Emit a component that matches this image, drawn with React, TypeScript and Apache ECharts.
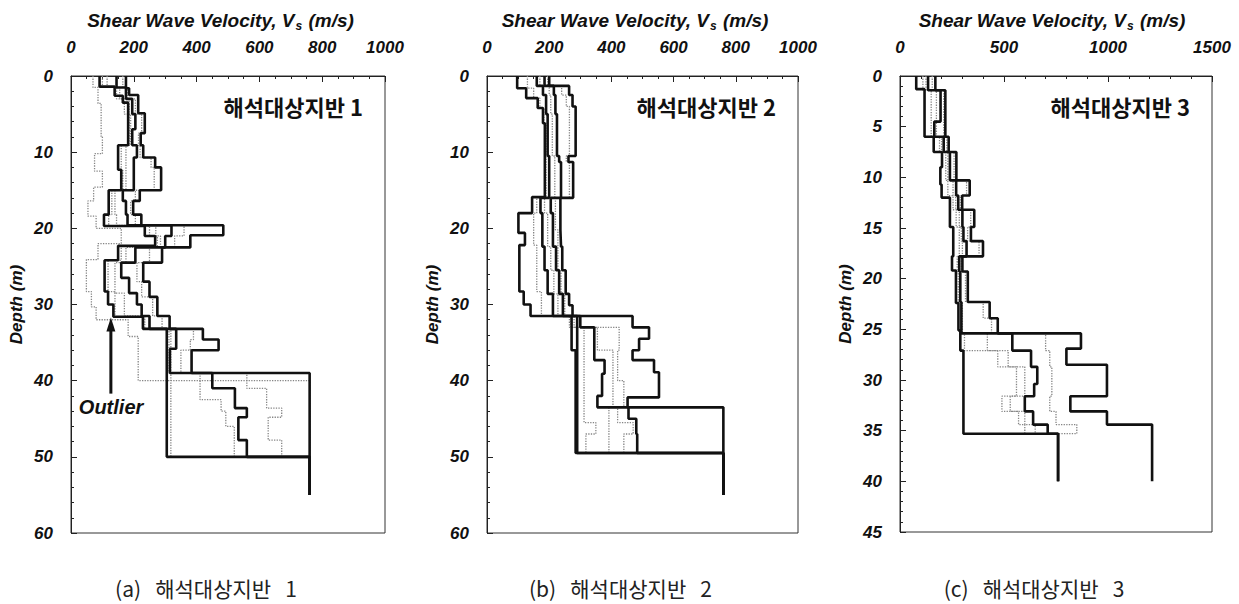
import React, { useEffect, useRef } from "react";
import * as echarts from "echarts";

// ---- Site 1: layer boundaries (m) and shear-wave velocities (m/s) ----
const P1_MIN_D = [0, 1.4, 2.6, 3.5, 9.1, 12.3, 15, 18.2, 19.7, 21, 22.3, 24.2, 28.3, 30, 31.6, 33.2, 50, 55];
const P1_MIN_V = [91, 139, 165, 182, 150, 160, 120, 105, 235, 268, 150, 107, 118, 135, 229, 305, 760];
const P1_MAX_D = [0, 1.6, 2.5, 4.9, 7.5, 9.1, 10.7, 12, 15, 16.4, 18.2, 19.6, 20.9, 22.5, 24.5, 27, 29, 31.5, 33.2, 34.6, 36, 39, 55];
const P1_MAX_V = [175, 185, 214, 235, 222, 230, 268, 287, 219, 198, 224, 485, 380, 290, 230, 250, 275, 314, 420, 470, 384, 760];
const P1_MED_D = [0, 1.5, 3, 5, 7, 9.1, 10.7, 15, 16.4, 18.2, 19.6, 21, 22.5, 24.5, 26.5, 28.5, 30, 31.5, 33.2, 35.8, 39, 41, 43.6, 44.8, 47.8, 50, 55];
const P1_MED_V = [145, 175, 195, 205, 195, 210, 200, 165, 175, 180, 320, 300, 205, 160, 185, 210, 225, 250, 335, 315, 450, 522, 560, 533, 560, 760];
const P1_P05_D = [0, 1.5, 3, 5, 9.1, 12.3, 15, 18.2, 19.7, 21, 22.3, 24.2, 28.3, 31.6, 33.2, 50, 55];
const P1_P05_V = [100, 145, 170, 185, 160, 165, 130, 120, 250, 275, 160, 118, 140, 232, 318, 760];
const P1_P16_D = [0, 1.5, 3, 5, 9.1, 15, 18.2, 19.6, 21, 22.5, 24.5, 28.5, 31.5, 33.2, 39, 42.5, 44, 46, 50, 55];
const P1_P16_V = [115, 155, 185, 190, 175, 140, 145, 270, 285, 175, 140, 170, 235, 312, 411, 478, 493, 520, 760];
const P1_P84_D = [0, 1.5, 3, 5, 7.5, 9.1, 10.7, 12, 15, 16.4, 18.2, 19.6, 21, 22.5, 24.5, 27, 29, 31.5, 33.2, 34.6, 36, 39, 41, 43.6, 44.8, 47.8, 50, 55];
const P1_P84_V = [165, 180, 205, 225, 215, 220, 255, 265, 205, 190, 205, 360, 330, 250, 210, 225, 260, 290, 390, 380, 350, 560, 623, 671, 628, 671, 760];
const P1_OUT_D = [0, 1.5, 3.6, 8, 10.2, 12.5, 14.6, 16.4, 18.4, 20, 22, 24.1, 28.3, 30.3, 32, 34.2, 40, 55];
const P1_OUT_V = [70, 86, 96, 100, 75, 100, 72, 54, 80, 160, 86, 49, 65, 80, 182, 214, 760];

// ---- Site 2 ----
const P2_MIN_D = [0, 1.6, 2.9, 4.2, 6.2, 15.9, 18, 20.6, 22.2, 28.3, 30, 31.5, 36, 49.5, 55];
const P2_MIN_V = [97, 126, 163, 180, 186, 145, 101, 122, 104, 118, 140, 272, 285, 760];
const P2_MAX_D = [0, 1.3, 2.5, 4, 10.5, 11.3, 16, 20.2, 22.4, 25.5, 28.6, 30.1, 31.5, 33, 34.5, 36, 37.3, 38.9, 42.2, 43.5, 55];
const P2_MAX_V = [200, 264, 275, 285, 262, 277, 236, 238, 242, 253, 264, 275, 468, 521, 489, 468, 537, 553, 452, 760];
const P2_MED_D = [0, 1.3, 2.5, 5, 10.5, 11.3, 16, 18, 22.4, 25.5, 28.6, 31.5, 33, 37.3, 39.1, 42, 43.5, 45, 47, 49.5, 55];
const P2_MED_V = [185, 215, 220, 225, 232, 238, 205, 212, 222, 232, 244, 300, 345, 378, 370, 355, 455, 480, 483, 760];
const P2_LO_D = [0, 1.3, 2.5, 5, 10.5, 16, 18, 22.4, 25.5, 28.6, 31.5, 49.5, 55];
const P2_LO_V = [160, 180, 190, 195, 200, 172, 178, 185, 195, 212, 290, 760];
const P2_P05_D = [0, 1.6, 2.9, 4.2, 6.2, 15.9, 18, 22.2, 28.3, 31.5, 33, 45.5, 47, 49.5, 55];
const P2_P05_V = [130, 150, 170, 183, 190, 160, 150, 160, 175, 280, 312, 350, 318, 760];
const P2_P16_D = [0, 1.3, 2.5, 5, 10.5, 16, 18, 22.4, 25.5, 28.6, 31.5, 33, 36, 43.5, 49.5, 55];
const P2_P16_V = [170, 200, 205, 210, 218, 185, 195, 205, 215, 228, 270, 355, 405, 392, 760];
const P2_P84_D = [0, 1.3, 2.5, 4, 10.5, 11.3, 16, 20.2, 25.5, 28.6, 31.5, 33, 36, 40, 43.5, 45.5, 47, 49.5, 55];
const P2_P84_V = [195, 240, 255, 265, 255, 265, 220, 228, 238, 250, 265, 425, 420, 440, 420, 470, 440, 760];

// ---- Site 3 ----
const P3_MIN_D = [0, 1.3, 6, 7.5, 9, 10.7, 12, 14.9, 17.8, 19.2, 22.4, 25.1, 27.1, 35.3, 40];
const P3_MIN_V = [78, 118, 162, 202, 194, 200, 240, 256, 250, 269, 281, 290, 305, 760];
const P3_MAX_D = [0, 1.4, 6, 7.5, 10.3, 11.8, 13.2, 14.9, 16.3, 17.8, 19.3, 22.3, 23.9, 25.4, 26.9, 28.5, 31.6, 33.1, 34.4, 40];
const P3_MAX_V = [170, 218, 234, 271, 335, 299, 357, 341, 399, 300, 326, 431, 470, 870, 800, 995, 819, 995, 1212];
const P3_MED_D = [0, 1.4, 4.5, 6, 7.5, 10.3, 11.8, 13.2, 14.9, 16.3, 17.8, 19.3, 22.3, 25.4, 27.1, 28.7, 30.4, 31.6, 33.1, 34.4, 35.3, 40];
const P3_MED_V = [135, 195, 165, 210, 240, 270, 280, 300, 305, 320, 285, 290, 295, 540, 630, 660, 645, 600, 640, 710, 760];
const P3_P16_D = [0, 1.4, 6, 7.5, 10.3, 11.8, 13.2, 14.9, 17.8, 19.3, 22.3, 25.4, 27.1, 28.7, 31.6, 33.1, 34.4, 35.3, 40];
const P3_P16_V = [110, 150, 190, 220, 230, 255, 270, 285, 275, 280, 300, 310, 470, 560, 490, 570, 600, 760];
const P3_P30_D = [0, 1.4, 6, 7.5, 10.3, 11.8, 13.2, 14.9, 16.3, 17.8, 19.3, 22.3, 25.4, 27.1, 28.7, 31.6, 33.1, 34.4, 35.3, 40];
const P3_P30_V = [125, 175, 200, 230, 255, 268, 285, 295, 300, 280, 285, 298, 420, 520, 600, 530, 600, 650, 760];
const P3_P84_D = [0, 1.4, 6, 7.5, 10.3, 11.8, 13.2, 14.9, 16.3, 17.8, 19.3, 22.3, 23.9, 25.4, 27.1, 28.7, 31.6, 33.1, 34.4, 35.3, 40];
const P3_P84_V = [155, 210, 225, 260, 320, 290, 340, 325, 380, 295, 315, 400, 440, 700, 720, 730, 720, 750, 850, 760];

// axis settings per site
const X_MAX = [1000, 1000, 1500];
const X_STEP = [200, 200, 500];
const X_MINOR = [4, 4, 5];
const Y_MAX = [60, 60, 45];
const Y_STEP = [10, 10, 5];
const SITE_LABELS = ["해석대상지반 1", "해석대상지반 2", "해석대상지반 3"];
const CAPTIONS = ["(a)   해석대상지반   1", "(b)   해석대상지반   2", "(c)   해석대상지반   3"];

// outlier annotation (velocity m/s, depth m)
const ARROW_V = 127;
const ARROW_TIP_D = 31.7;
const ARROW_BASE_D = 41.7;
const OUTLIER_LABEL_V = 25;
const OUTLIER_LABEL_D = 43.5;

const GRIDS = [
  { left: 71, top: 76, width: 314, height: 457 },
  { left: 487, top: 76, width: 311, height: 457 },
  { left: 900, top: 76, width: 312, height: 456 },
];

const LATIN = "'Liberation Sans', Arial, sans-serif";
const KOREAN = "'Noto Sans CJK KR', sans-serif";
const INK = "#111";
const GREY = "#858585";

function stepProfile(depths: number[], vels: number[]) {
  const pts: number[][] = [];
  vels.forEach((v, i) => {
    pts.push([v, depths[i]]);
    pts.push([v, depths[i + 1]]);
  });
  return pts;
}

const BLACK_SETS: [number[], number[]][][] = [
  [[P1_MIN_D, P1_MIN_V], [P1_MED_D, P1_MED_V], [P1_MAX_D, P1_MAX_V]],
  [[P2_MIN_D, P2_MIN_V], [P2_LO_D, P2_LO_V], [P2_MED_D, P2_MED_V], [P2_MAX_D, P2_MAX_V]],
  [[P3_MIN_D, P3_MIN_V], [P3_MED_D, P3_MED_V], [P3_MAX_D, P3_MAX_V]],
];
const GREY_SETS: [number[], number[]][][] = [
  [[P1_OUT_D, P1_OUT_V], [P1_P05_D, P1_P05_V], [P1_P16_D, P1_P16_V], [P1_P84_D, P1_P84_V]],
  [[P2_P05_D, P2_P05_V], [P2_P16_D, P2_P16_V], [P2_P84_D, P2_P84_V]],
  [[P3_P16_D, P3_P16_V], [P3_P30_D, P3_P30_V], [P3_P84_D, P3_P84_V]],
];

function buildOption() {
  const tickFont = { fontFamily: LATIN, fontWeight: "bold" as const, fontStyle: "italic" as const, fontSize: 17, color: INK };
  const xAxis = GRIDS.map((_, i) => ({
    type: "value",
    gridIndex: i,
    position: "top",
    min: 0,
    max: X_MAX[i],
    interval: X_STEP[i],
    name: "{t|Shear Wave Velocity, V}{s|s}{t| (m/s)}",
    nameLocation: "middle",
    nameGap: 44,
    nameTextStyle: {
      padding: [0, i === 2 ? 8 : 15, 0, 0],
      rich: {
        t: { ...tickFont, fontSize: 19, lineHeight: 24 },
        s: { ...tickFont, fontSize: 12, verticalAlign: "bottom", lineHeight: 24, padding: [0, 1, 0, 1] },
      },
    },
    axisLine: { show: true, lineStyle: { color: "#222", width: 1 } },
    axisTick: { show: true, inside: true, length: 6, lineStyle: { color: "#222" } },
    minorTick: { show: true, splitNumber: X_MINOR[i], length: 3, lineStyle: { color: "#222" } },
    splitLine: { show: false },
    axisLabel: { ...tickFont, margin: 20, formatter: (v: number) => String(v) },
  }));
  const yAxis = GRIDS.map((_, i) => ({
    type: "value",
    gridIndex: i,
    inverse: true,
    min: 0,
    max: Y_MAX[i],
    interval: Y_STEP[i],
    name: "Depth (m)",
    nameLocation: "middle",
    nameGap: 46,
    nameRotate: 90,
    nameTextStyle: { ...tickFont },
    axisLine: { show: true, lineStyle: { color: "#222", width: 1 } },
    axisTick: { show: true, inside: true, length: 6, lineStyle: { color: "#222" } },
    minorTick: { show: true, splitNumber: 5, length: 3, lineStyle: { color: "#222" } },
    splitLine: { show: false },
    axisLabel: { ...tickFont, margin: 18, formatter: (v: number) => String(v) },
  }));

  const series: any[] = [];
  GREY_SETS.forEach((sets, i) => {
    sets.forEach(([d, v]) => {
      series.push({
        type: "line",
        xAxisIndex: i,
        yAxisIndex: i,
        data: stepProfile(d, v),
        symbol: "none",
        silent: true,
        z: 2,
        lineStyle: { color: GREY, width: 1.3, type: "dotted" },
      });
    });
  });
  BLACK_SETS.forEach((sets, i) => {
    sets.forEach(([d, v]) => {
      series.push({
        type: "line",
        xAxisIndex: i,
        yAxisIndex: i,
        data: stepProfile(d, v),
        symbol: "none",
        silent: true,
        z: 3,
        lineStyle: { color: INK, width: 2.6 },
      });
    });
  });

  return {
    animation: false,
    backgroundColor: "#fff",
    grid: GRIDS.map((g) => ({ ...g, show: true, borderColor: "#333", borderWidth: 1, backgroundColor: "transparent" })),
    xAxis,
    yAxis,
    series,
  };
}

export default function App() {
  const ref = useRef<HTMLDivElement>(null);
  useEffect(() => {
    if (!ref.current) return;
    const chart = echarts.init(ref.current, undefined, { renderer: "svg" });
    chart.setOption(buildOption() as any);

    const tip = chart.convertToPixel({ gridIndex: 0 }, [ARROW_V, ARROW_TIP_D]) as number[];
    const base = chart.convertToPixel({ gridIndex: 0 }, [ARROW_V, ARROW_BASE_D]) as number[];
    const lbl = chart.convertToPixel({ gridIndex: 0 }, [OUTLIER_LABEL_V, OUTLIER_LABEL_D]) as number[];

    const graphic: any[] = [];
    GRIDS.forEach((g, i) => {
      graphic.push({
        type: "text",
        x: g.left + g.width - 22,
        y: g.top + 30,
        style: {
          text: SITE_LABELS[i],
          fill: INK,
          fontFamily: KOREAN,
          fontWeight: "bold",
          fontSize: 22,
          align: "right",
          verticalAlign: "middle",
          textAlign: "right",
          textVerticalAlign: "middle",
        },
      });
      graphic.push({
        type: "text",
        x: g.left + g.width / 2 - 22,
        y: 588,
        style: {
          text: CAPTIONS[i],
          fill: "#222",
          fontFamily: KOREAN,
          fontWeight: "normal",
          fontSize: 21,
          lineHeight: 22,
          align: "center",
          verticalAlign: "middle",
          textAlign: "center",
          textVerticalAlign: "middle",
        },
      });
    });
    graphic.push({
      type: "line",
      shape: { x1: tip[0], y1: tip[1] + 12, x2: base[0], y2: base[1] },
      style: { stroke: INK, lineWidth: 3 },
      z: 10,
    });
    graphic.push({
      type: "polygon",
      shape: { points: [[tip[0], tip[1]], [tip[0] - 4.5, tip[1] + 14], [tip[0] + 4.5, tip[1] + 14]] },
      style: { fill: INK },
      z: 10,
    });
    graphic.push({
      type: "text",
      x: lbl[0],
      y: lbl[1],
      style: {
        text: "Outlier",
        fill: INK,
        fontFamily: LATIN,
        fontWeight: "bold",
        fontStyle: "italic",
        fontSize: 20,
        align: "left",
        verticalAlign: "middle",
        textAlign: "left",
        textVerticalAlign: "middle",
      },
      z: 10,
    });
    chart.setOption({ graphic });

    return () => chart.dispose();
  }, []);
  return (
    <div
      ref={ref}
      style={{ position: "fixed", left: 0, top: 0, width: 1239, height: 604, background: "#fff" }}
    />
  );
}
